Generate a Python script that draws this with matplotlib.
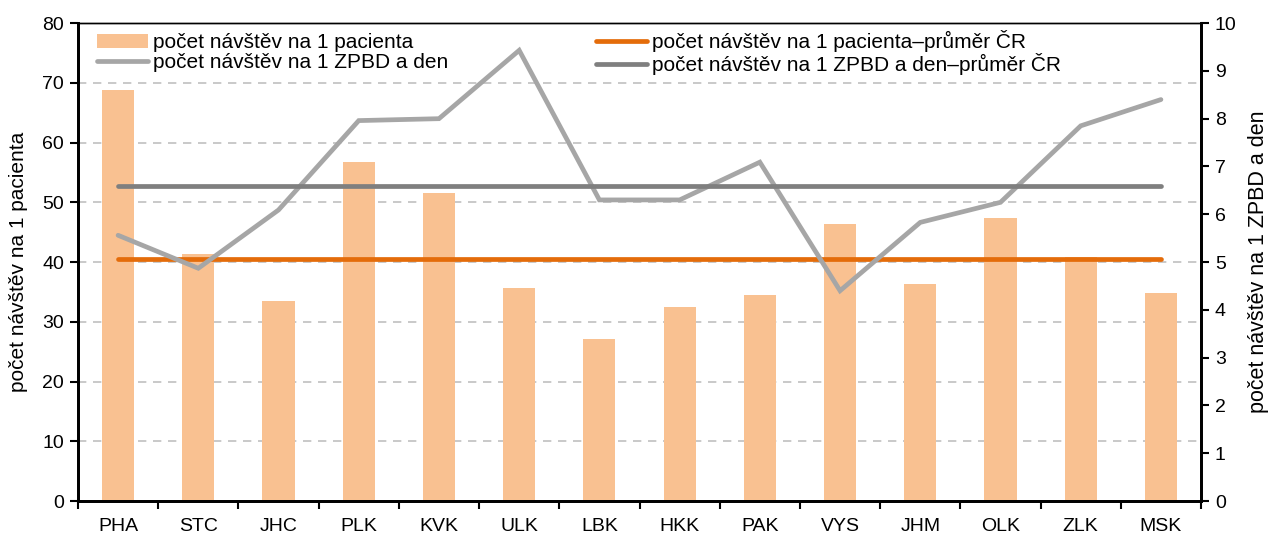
import matplotlib.pyplot as plt
import numpy as np

plt.rcParams["font.family"] = ["Liberation Sans", "DejaVu Sans"]

regions = ["PHA", "STC", "JHC", "PLK", "KVK", "ULK", "LBK",
           "HKK", "PAK", "VYS", "JHM", "OLK", "ZLK", "MSK"]
visits_per_patient = [68.8, 41.3, 33.5, 56.8, 51.5, 35.6, 27.1,
                      32.4, 34.5, 46.3, 36.3, 47.3, 40.8, 34.8]
visits_per_bed_day = [5.56, 4.87, 6.09, 7.96, 8.0, 9.43, 6.30,
                      6.30, 7.09, 4.40, 5.83, 6.25, 7.85, 8.40]
avg_per_patient = 40.5
avg_per_bed_day = 6.6

BAR = "#F9C191"
ORANGE = "#E46C0A"
LIGHT = "#A6A6A6"
DARK = "#7F7F7F"

fig = plt.figure(figsize=(12.7, 5.37), dpi=100)
ax = fig.add_axes([0.0614, 0.067, 0.8843, 0.890])
ax2 = ax.twinx()

x = np.arange(len(regions))
bars = ax.bar(x, visits_per_patient, width=0.4, color=BAR, zorder=2,
              label="počet návštěv na 1 pacienta")
l_avg_p, = ax.plot([x[0], x[-1]], [avg_per_patient] * 2, color=ORANGE, lw=3.4,
                   solid_capstyle="round", zorder=3,
                   label="počet návštěv na 1 pacienta–průměr ČR")
l_bed, = ax2.plot(x, visits_per_bed_day, color=LIGHT, lw=3.4,
                  solid_capstyle="round", solid_joinstyle="miter",
                  label="počet návštěv na 1 ZPBD a den")
l_avg_b, = ax2.plot([x[0], x[-1]], [avg_per_bed_day] * 2, color=DARK, lw=3.4,
                    solid_capstyle="round",
                    label="počet návštěv na 1 ZPBD a den–průměr ČR")

ax.set_xlim(-0.5, len(regions) - 0.5)
ax.set_ylim(0, 80)
ax.set_yticks(range(0, 81, 10))
ax2.set_ylim(0, 10)
ax2.set_yticks(range(0, 11))

ax.yaxis.grid(True, color="#C0C0C0", linestyle=(0, (5, 4)), lw=1.2)
ax.set_axisbelow(True)

ax.set_xticks(x)
ax.set_xticklabels(regions)
ax.set_xticks(np.arange(-0.5, len(regions), 1), minor=True)
ax.tick_params(axis="x", which="major", length=0, pad=12, labelsize=14)
ax.tick_params(axis="x", which="minor", length=6, width=1.5, direction="out")
ax.tick_params(axis="y", length=6, width=1.5, labelsize=14, pad=4)
ax2.tick_params(axis="y", length=6, width=1.5, labelsize=14, pad=4)

for a in (ax, ax2):
    for side in ("left", "right", "bottom"):
        a.spines[side].set_linewidth(2)
    a.spines["top"].set_linewidth(1)

ax.set_ylabel("počet návštěv na 1 pacienta", fontsize=15, labelpad=10)
ax2.set_ylabel("počet návštěv na 1 ZPBD a den", fontsize=15.5, labelpad=8)

leg = ax.legend(handles=[bars, l_bed, l_avg_p, l_avg_b], ncol=2,
                loc="upper left", bbox_to_anchor=(0.002, 1.02), frameon=False,
                fontsize=15, handlelength=2.45, handletextpad=0.24,
                columnspacing=7.1, labelspacing=0.05, borderpad=0.3)
leg.set_zorder(5)

fig.savefig("out.png", dpi=100)
